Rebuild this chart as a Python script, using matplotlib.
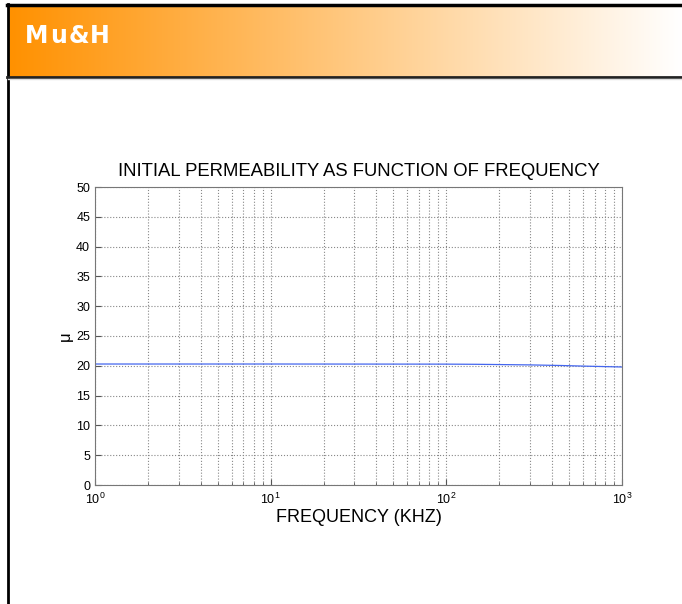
import matplotlib
matplotlib.use('Agg')
import matplotlib.pyplot as plt
import numpy as np
from matplotlib.ticker import LogLocator, MultipleLocator

plt.rcParams['font.family'] = ['Liberation Sans', 'DejaVu Sans']

# data
freq_khz = [1, 10, 100, 150, 300, 450, 600, 1000]
mu = [20.3, 20.3, 20.28, 20.25, 20.15, 20.05, 19.95, 19.8]

title = 'INITIAL PERMEABILITY AS FUNCTION OF FREQUENCY'
xlabel = 'FREQUENCY (KHZ)'
ylabel = 'μ'
header = 'Mu&H'

W, H = 682, 604
fig = plt.figure(figsize=(W / 100, H / 100), dpi=100)

# header band with orange-to-white gradient
hax = fig.add_axes([8 / W, 1 - 77 / H, 1 - 8 / W, 71 / H])
t = np.linspace(0, 1, 256)
c0 = np.array([255, 145, 0]) / 255
c1 = np.array([255, 255, 255]) / 255
grad = c0[None, :] * (1 - t[:, None]) + c1[None, :] * t[:, None]
hax.imshow(grad[None, :, :], aspect='auto', extent=[0, 1, 0, 1])
hax.set_axis_off()

# frame lines + header text (letter-spaced)
bg = fig.add_axes([0, 0, 1, 1], facecolor='none')
bg.set_xlim(0, W)
bg.set_ylim(H, 0)
bg.set_axis_off()
bg.plot([7.5, 7.5], [4, H], color='black', lw=2)
bg.plot([7, W], [5, 5], color='black', lw=2.5)
bg.plot([7, W], [77, 77], color='#222222', lw=2)
bg.plot([8, W], [79, 79], color='#dddddd', lw=1)
x = 25
for ch in header:
    txt = bg.text(x, 43, ch, color='white', fontsize=17, fontweight='bold',
                  family=['DejaVu Sans'], va='baseline', ha='left')
    fig.canvas.draw()
    bb = txt.get_window_extent()
    x += bb.width + 1.5

# main chart
ax = fig.add_axes([95 / W, 1 - 485 / H, (622 - 95) / W, (485 - 187) / H])
ax.semilogx(freq_khz, mu, color='#4466ee', lw=0.9)
ax.set_xlim(1, 1000)
ax.set_ylim(0, 50)
ax.yaxis.set_major_locator(MultipleLocator(5))
ax.xaxis.set_major_locator(LogLocator(base=10))
ax.xaxis.set_minor_locator(LogLocator(base=10, subs=np.arange(2, 10)))
ax.grid(True, which='major', linestyle=':', color='#888888', lw=0.8)
ax.grid(True, which='minor', axis='x', linestyle=':', color='#888888', lw=0.8)
ax.tick_params(which='both', direction='in', labelsize=9, top=False, right=False,
               color='#555555')
ax.tick_params(which='major', length=4)
ax.tick_params(which='minor', length=2.5)
ax.tick_params(axis='x', pad=5)
for s in ax.spines.values():
    s.set_color('#777777')
ax.set_title(title, fontsize=13.3, pad=8)
ax.set_xlabel(xlabel, fontsize=13, labelpad=1)
ax.set_ylabel(ylabel, fontsize=12, labelpad=2)

fig.savefig('out.png', dpi=100)
